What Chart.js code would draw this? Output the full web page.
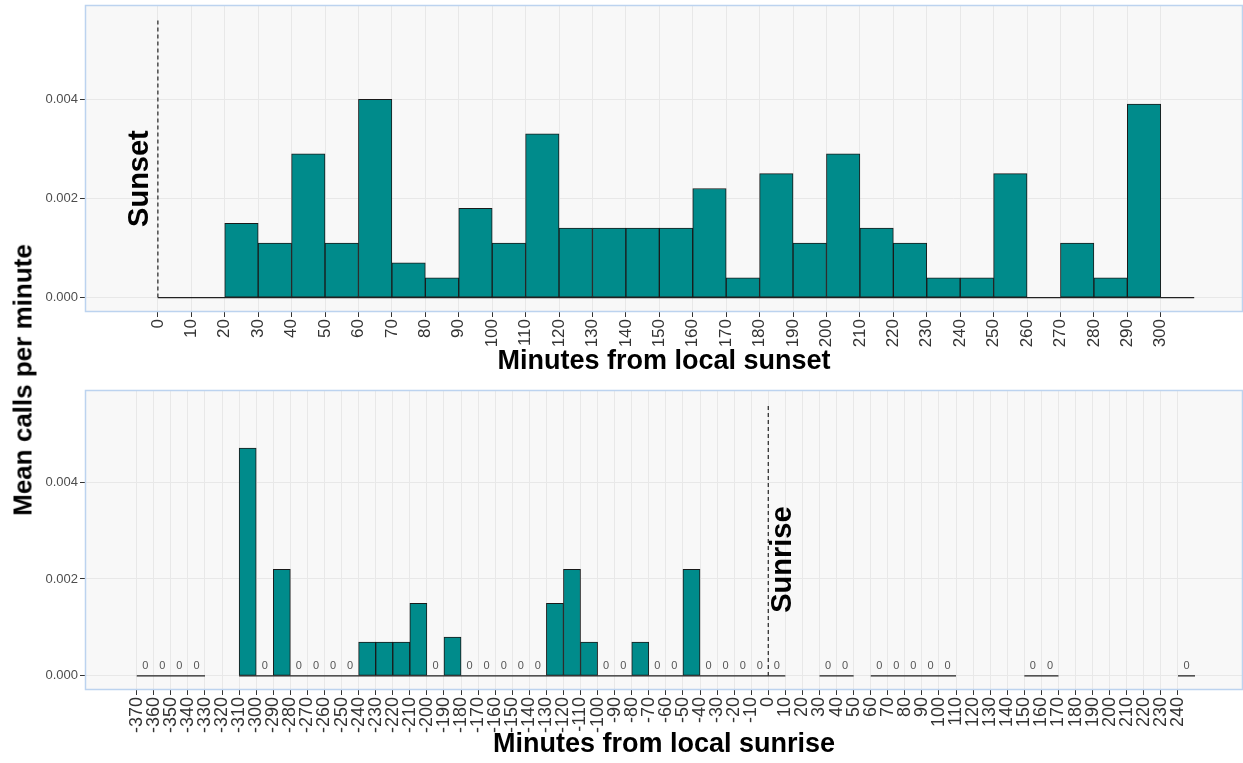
<!DOCTYPE html>
<html>
<head>
<meta charset="utf-8">
<title>Mean calls per minute around sunset and sunrise</title>
<script src="https://cdn.jsdelivr.net/npm/chart.js@4.4.1/dist/chart.umd.min.js"></script>
<style>
  html, body { margin: 0; padding: 0; background: #fff; }
  #wrap { position: relative; width: 1243px; height: 763px; overflow: hidden; }
  .box { position: absolute; left: 0; width: 1243px; }
  #topBox { top: 0; height: 380px; }
  #botBox { top: 380px; height: 383px; }
  #yTitle {
    position: absolute; left: 23px; top: 380px;
    transform: translate(-50%, -50%) rotate(-90deg);
    font: bold 26px 'Liberation Sans', Arial, sans-serif;
    white-space: nowrap; color: #000;
  }
</style>
</head>
<body>
<div id="wrap">
  <div class="box" id="topBox"><canvas id="sunsetChart" width="1243" height="380"></canvas></div>
  <div class="box" id="botBox"><canvas id="sunriseChart" width="1243" height="383"></canvas></div>
  <div id="yTitle">Mean calls per minute</div>
</div>
<script>
// bin starts (minutes), bins are 10 min wide
const binWidth = 10;

const sunsetBins = [0, 10, 20, 30, 40, 50, 60, 70, 80, 90, 100, 110, 120, 130, 140, 150,
  160, 170, 180, 190, 200, 210, 220, 230, 240, 250, 260, 270, 280, 290, 300];
const sunsetRate = [0, 0, 0.0015, 0.0011, 0.0029, 0.0011, 0.0040, 0.0007, 0.0004, 0.0018,
  0.0011, 0.0033, 0.0014, 0.0014, 0.0014, 0.0014, 0.0022, 0.0004, 0.0025, 0.0011,
  0.0029, 0.0014, 0.0011, 0.0004, 0.0004, 0.0025, 0, 0.0011, 0.0004, 0.0039, 0];
const sunsetTicks = [0, 10, 20, 30, 40, 50, 60, 70, 80, 90, 100, 110, 120, 130, 140, 150,
  160, 170, 180, 190, 200, 210, 220, 230, 240, 250, 260, 270, 280, 290, 300];

// null = no observation in that bin
const sunriseBins = [-370, -360, -350, -340, -330, -320, -310, -300, -290, -280, -270, -260,
  -250, -240, -230, -220, -210, -200, -190, -180, -170, -160, -150, -140, -130, -120, -110,
  -100, -90, -80, -70, -60, -50, -40, -30, -20, -10, 0, 10, 20, 30, 40, 50, 60, 70, 80, 90,
  100, 110, 120, 130, 140, 150, 160, 170, 180, 190, 200, 210, 220, 230, 240];
const sunriseRate = [0, 0, 0, 0, null, null, 0.0047, 0, 0.0022, 0, 0, 0,
  0, 0.0007, 0.0007, 0.0007, 0.0015, 0, 0.0008, 0, 0, 0, 0, 0, 0.0015, 0.0022, 0.0007,
  0, 0, 0.0007, 0, 0, 0.0022, 0, 0, 0, 0, 0, null, null, 0, 0, null, 0, 0, 0, 0,
  0, null, null, null, null, 0, 0, null, null, null, null, null, null, null, 0];
const sunriseTicks = [-370, -360, -350, -340, -330, -320, -310, -300, -290, -280, -270, -260,
  -250, -240, -230, -220, -210, -200, -190, -180, -170, -160, -150, -140, -130, -120, -110,
  -100, -90, -80, -70, -60, -50, -40, -30, -20, -10, 0, 10, 20, 30, 40, 50, 60, 70, 80, 90,
  100, 110, 120, 130, 140, 150, 160, 170, 180, 190, 200, 210, 220, 230, 240];

const yTicks = [0, 0.002, 0.004];
const markerTop = 0.0056;   // top of the dashed sunset / sunrise line

const FONT = "'Liberation Sans', Arial, sans-serif";
const TEAL = '#008b8b';

// bars only for non-zero bins, baseline drawn as a line over all observed bins
function barPoints(bins, rates) {
  const pts = [];
  bins.forEach((b, i) => {
    if (rates[i]) pts.push({ x: b + binWidth / 2, y: rates[i] });
  });
  return pts;
}

function baselinePoints(bins, rates) {
  const pts = [];
  let prevOk = false;
  bins.forEach((b, i) => {
    if (rates[i] === null) {
      if (prevOk) pts.push({ x: b, y: null });
      prevOk = false;
      return;
    }
    if (!prevOk) pts.push({ x: b, y: 0 });
    pts.push({ x: b + binWidth, y: 0 });
    prevOk = true;
  });
  return pts;
}

const panelPlugin = {
  id: 'panel',
  beforeDraw(chart) {
    const { ctx, chartArea: a } = chart;
    ctx.save();
    ctx.fillStyle = '#f8f8f8';
    ctx.fillRect(a.left, a.top, a.right - a.left, a.bottom - a.top);
    ctx.restore();
  },
  afterDraw(chart) {
    const { ctx, chartArea: a } = chart;
    ctx.save();
    ctx.strokeStyle = '#bcd3ef';
    ctx.lineWidth = 1.5;
    ctx.strokeRect(a.left + 0.5, a.top + 0.5, a.right - a.left - 1, a.bottom - a.top);
    ctx.restore();
  }
};

const notesPlugin = {
  id: 'notes',
  afterDatasetsDraw(chart, args, opts) {
    const { ctx } = chart;
    const x = chart.scales.x, y = chart.scales.y;
    ctx.save();
    if (opts.zeroLabels) {
      ctx.font = '11px ' + FONT;
      ctx.fillStyle = '#555';
      ctx.textAlign = 'center';
      ctx.textBaseline = 'alphabetic';
      opts.bins.forEach((b, i) => {
        if (opts.rates[i] === 0) {
          ctx.fillText('0', x.getPixelForValue(b + binWidth / 2), y.getPixelForValue(0) - 7);
        }
      });
    }
    ctx.translate(x.getPixelForValue(0) + opts.dx, y.getPixelForValue(opts.textY));
    ctx.rotate(-Math.PI / 2);
    ctx.font = 'bold 29px ' + FONT;
    ctx.fillStyle = '#000';
    ctx.textAlign = 'center';
    ctx.textBaseline = 'alphabetic';
    ctx.fillText(opts.text, 0, 0);
    ctx.restore();
  }
};

function makeChart(id, cfg) {
  return new Chart(document.getElementById(id), {
    type: 'bar',
    data: {
      datasets: [
        {
          type: 'line',
          data: [{ x: 0, y: 0 }, { x: 0, y: markerTop }],
          borderColor: '#333',
          borderWidth: 1.3,
          borderDash: [4, 3],
          pointRadius: 0
        },
        {
          type: 'line',
          data: baselinePoints(cfg.bins, cfg.rates),
          borderColor: '#222',
          borderWidth: 1.2,
          pointRadius: 0,
          spanGaps: false
        },
        {
          data: barPoints(cfg.bins, cfg.rates),
          backgroundColor: TEAL,
          borderColor: '#1a1a1a',
          borderWidth: 1,
          borderSkipped: false,
          barPercentage: 1,
          categoryPercentage: 1
        }
      ]
    },
    options: {
      responsive: false,
      animation: false,
      devicePixelRatio: 1,
      layout: { padding: { top: cfg.padTop, bottom: 2, left: 0, right: 0 } },
      plugins: {
        legend: { display: false },
        tooltip: { enabled: false },
        notes: {
          zeroLabels: cfg.zeroLabels, bins: cfg.bins, rates: cfg.rates,
          text: cfg.text, dx: cfg.dx, textY: 0.0024
        }
      },
      scales: {
        x: {
          type: 'linear',
          offset: false,
          min: cfg.xMin,
          max: cfg.xMax,
          afterBuildTicks: s => { s.ticks = cfg.ticks.map(v => ({ value: v })); },
          afterFit: s => { s.height = cfg.xHeight; s.paddingLeft = 0; s.paddingRight = 0; },
          grid: { offset: false, color: '#e8e8e8', tickColor: '#333', tickLength: 6 },
          border: { display: false },
          ticks: {
            autoSkip: false,
            minRotation: 90,
            maxRotation: 90,
            padding: 2,
            color: '#333',
            font: { family: FONT, size: cfg.tickSize }
          },
          title: {
            display: true,
            text: cfg.title,
            color: '#000',
            padding: 0,
            font: { family: FONT, size: 27, weight: 'bold' }
          }
        },
        y: {
          min: -0.00027,
          max: 0.0059,
          afterBuildTicks: s => { s.ticks = yTicks.map(v => ({ value: v })); },
          afterFit: s => { s.width = 85; s.paddingTop = 0; s.paddingBottom = 0; },
          grid: { color: '#e8e8e8', tickColor: '#333', tickLength: 5 },
          border: { display: false },
          ticks: {
            padding: 2,
            color: '#4d4d4d',
            font: { family: FONT, size: 13 },
            callback: v => v.toFixed(3)
          }
        }
      }
    },
    plugins: [panelPlugin, notesPlugin]
  });
}

makeChart('sunsetChart', {
  bins: sunsetBins, rates: sunsetRate, ticks: sunsetTicks,
  xMin: -21.8, xMax: 324.6, padTop: 5, xHeight: 67, tickSize: 17,
  title: 'Minutes from local sunset', text: 'Sunset', dx: -10, zeroLabels: false
});

makeChart('sunriseChart', {
  bins: sunriseBins, rates: sunriseRate, ticks: sunriseTicks,
  xMin: -400.3, xMax: 278.1, padTop: 10, xHeight: 72, tickSize: 18,
  title: 'Minutes from local sunrise', text: 'Sunrise', dx: 23, zeroLabels: true
});
</script>
</body>
</html>
